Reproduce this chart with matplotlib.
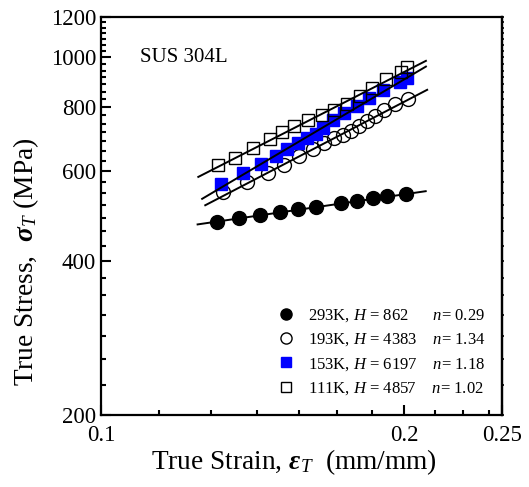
import numpy as np
import matplotlib
matplotlib.use("Agg")
import matplotlib.pyplot as plt
from matplotlib.ticker import FixedLocator, NullFormatter

plt.rcParams['font.family'] = ['Liberation Serif', 'DejaVu Serif']
plt.rcParams['mathtext.fontset'] = 'custom'
plt.rcParams['mathtext.rm'] = 'Liberation Serif'
plt.rcParams['mathtext.it'] = 'Liberation Serif:italic'
plt.rcParams['mathtext.bf'] = 'Liberation Serif:bold:italic'

# 293K
strain_293 = [0.1304, 0.1370, 0.1437, 0.1504, 0.1569, 0.1633, 0.1730, 0.1796, 0.1860, 0.1923, 0.2009]
stress_293 = [477.5, 486.1, 492.7, 498.5, 505.2, 509.8, 520.0, 523.7, 530.1, 534.9, 541.4]
# 193K
strain_193 = [0.1322, 0.1395, 0.1464, 0.1520, 0.1573, 0.1624, 0.1665, 0.1703, 0.1737, 0.1769,
              0.1805, 0.1835, 0.1870, 0.1910, 0.1958, 0.2018]
stress_193 = [546.4, 571.5, 594.9, 617.2, 640.9, 662.4, 680.7, 696.2, 706.6, 719.6,
              733.6, 749.9, 766.9, 788.3, 811.0, 830.7]
# 153K
strain_153 = [0.1315, 0.1382, 0.1440, 0.1492, 0.1531, 0.1568, 0.1600, 0.1633, 0.1660, 0.1700,
              0.1742, 0.1794, 0.1846, 0.1906, 0.1981, 0.2011]
stress_153 = [567.1, 594.9, 620.1, 643.0, 663.3, 680.7, 696.2, 709.8, 728.3, 753.4,
              778.9, 804.7, 833.4, 864.6, 897.5, 911.4]
# 111K
strain_111 = [0.1307, 0.1358, 0.1416, 0.1472, 0.1513, 0.1555, 0.1604, 0.1656, 0.1703, 0.1753,
              0.1806, 0.1856, 0.1917, 0.1984, 0.2013]
stress_111 = [615.6, 637.3, 665.7, 693.2, 716.3, 735.9, 753.4, 771.9, 790.5, 811.0,
              841.6, 871.3, 907.2, 936.2, 960.0]

# fitted lines (end points)
fit_strain_293 = [0.1247, 0.2100]
fit_stress_293 = [471.7, 547.8]
fit_strain_193 = [0.1269, 0.2107]
fit_stress_193 = [514.2, 864.6]
fit_strain_153 = [0.1260, 0.2101]
fit_stress_153 = [529.3, 960.0]
fit_strain_111 = [0.1249, 0.2101]
fit_stress_111 = [584.2, 985.0]

labels = [r"293K, $\mathit{H}$ = 862      $\mathit{n}$= 0.29",
          r"193K, $\mathit{H}$ = 4383    $\mathit{n}$= 1.34",
          r"153K, $\mathit{H}$ = 6197    $\mathit{n}$= 1.18",
          r"111K, $\mathit{H}$ = 4857    $\mathit{n}$= 1.02"]

xmajor = [0.1, 0.2, 0.25]
xmajor_labels = ['0.1', '0.2', '0.25']
ymajor = [200, 400, 600, 800, 1000, 1200]
ymajor_labels = ['200', '400', '600', '800', '1000', '1200']

fig = plt.figure(figsize=(5.29, 4.87), dpi=100)
ax = fig.add_axes([0.1909, 0.1478, 0.7581, 0.8173])

ax.plot(strain_293, stress_293, 'o', ms=10, color='black', label=labels[0])
ax.plot(strain_193, stress_193, 'o', ms=10, mfc='none', mec='black', mew=1.0, label=labels[1])
ax.plot(strain_153, stress_153, 's', ms=9, color='#0000ff', mec='#0000ff', label=labels[2])
ax.plot(strain_111, stress_111, 's', ms=9, mfc='none', mec='black', mew=1.0, label=labels[3])

for fx, fy in [(fit_strain_293, fit_stress_293), (fit_strain_193, fit_stress_193),
               (fit_strain_153, fit_stress_153), (fit_strain_111, fit_stress_111)]:
    ax.plot(fx, fy, '-', color='black', lw=1.4, zorder=5)

ax.set_xscale('log')
ax.set_yscale('log')
ax.set_xlim(0.1, 0.25)
ax.set_ylim(200, 1200)

ax.xaxis.set_major_locator(FixedLocator(xmajor))
ax.set_xticklabels(xmajor_labels)
xminor = [0.1 + k * 0.1 / 7 for k in range(1, 7)] + [0.2 + k * 0.1 / 7 for k in range(1, 4)]
ax.xaxis.set_minor_locator(FixedLocator(xminor))
ax.xaxis.set_minor_formatter(NullFormatter())

ax.yaxis.set_major_locator(FixedLocator(ymajor))
ax.set_yticklabels(ymajor_labels)
yminor = [200 + k * 200 / 7 for k in range(1, 35) if k % 7 != 0]
ax.yaxis.set_minor_locator(FixedLocator(yminor))
ax.yaxis.set_minor_formatter(NullFormatter())

ax.tick_params(which='both', direction='in', labelsize=16.5, width=1.5, top=False, right=False)
ax.tick_params(which='major', length=7)
ax.tick_params(which='minor', length=3.5)
ax.tick_params(axis='x', pad=7)
for s in ax.spines.values():
    s.set_linewidth(1.6)

# tiny outward ticks on the right spine
sec = ax.secondary_yaxis('right')
sec.yaxis.set_major_locator(FixedLocator(ymajor))
sec.yaxis.set_minor_locator(FixedLocator(yminor))
sec.yaxis.set_major_formatter(NullFormatter())
sec.yaxis.set_minor_formatter(NullFormatter())
sec.tick_params(which='both', direction='out', length=1.5, width=1.2)
sec.spines['right'].set_linewidth(1.6)

ax.set_xlabel(r"True Strain, $\mathbf{\varepsilon}_{\mathit{T}}$  (mm/mm)", fontsize=19.7)
ax.xaxis.set_label_coords(0.482, -0.08)
ax.set_ylabel(r"True Stress,  $\mathbf{\sigma}_{\mathit{T}}$ (MPa)", fontsize=19.7)
ax.yaxis.set_label_coords(-0.15, 0.385)

ax.text(0.097, 0.897, "SUS 304L", transform=ax.transAxes, fontsize=15, va='center', ha='left')

ax.legend(loc='center left', bbox_to_anchor=(0.441, 0.158), frameon=False, fontsize=12,
          borderpad=0, borderaxespad=0, handlelength=1.0, handletextpad=0.8,
          labelspacing=0.45, markerscale=0.8)

fig.savefig("out.png", dpi=100)
